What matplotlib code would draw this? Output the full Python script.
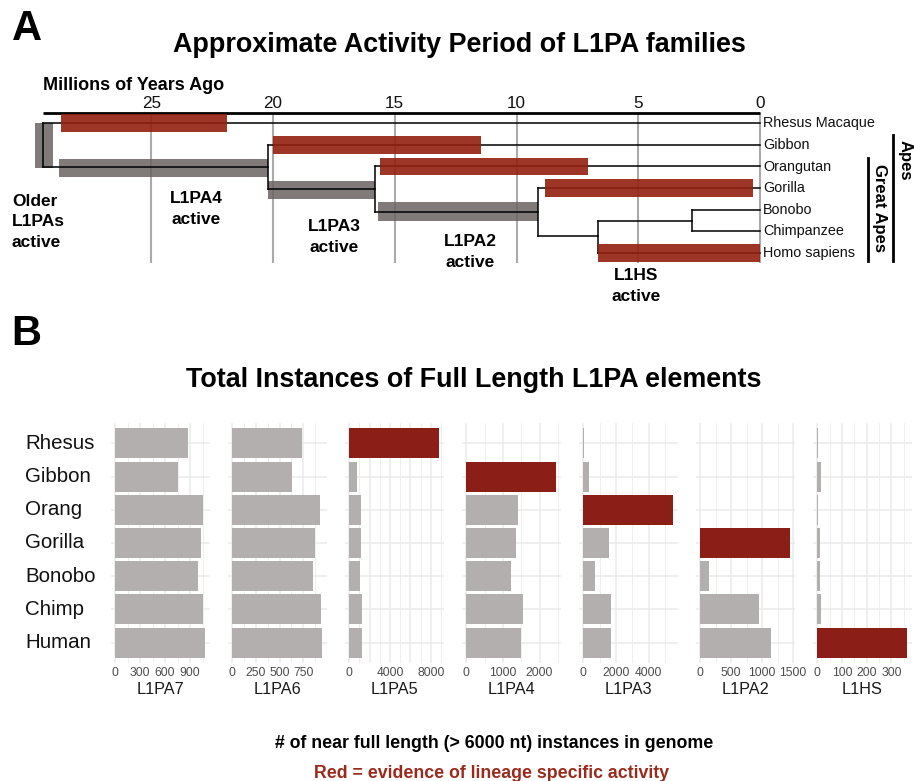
import matplotlib
matplotlib.use('Agg')
import matplotlib.pyplot as plt
from matplotlib.patches import Rectangle
import numpy as np

plt.rcParams['font.family'] = ['Liberation Sans', 'DejaVu Sans']

W, H = 914, 781
fig = plt.figure(figsize=(W / 100, H / 100), dpi=100)

# ---------------- Panel A data ----------------
species_tree = ["Rhesus Macaque", "Gibbon", "Orangutan", "Gorilla",
                "Bonobo", "Chimpanzee", "Homo sapiens"]
myr_ticks = [25, 20, 15, 10, 5, 0]
# internal nodes (age in Mya, row of incoming branch, children)
node_names = ["root", "apes", "great_apes", "hominines", "homo_pan", "pan"]
node_ages = [29.45, 20.2, 15.8, 9.1, 6.65, 2.8]
node_rows = [2.02, 2.02, 3.04, 4.1, 5.2, 4.52]
node_children = [("Rhesus Macaque", "apes"), ("Gibbon", "great_apes"),
                 ("Orangutan", "hominines"), ("Gorilla", "homo_pan"),
                 ("pan", "Homo sapiens"), ("Bonobo", "Chimpanzee")]

# lineage-specific activity (red)
red_species = ["Rhesus Macaque", "Gibbon", "Orangutan", "Gorilla", "Homo sapiens"]
red_start = [28.7, 20.0, 15.6, 8.83, 6.67]
red_end = [21.9, 11.45, 7.05, 0.27, 0.0]

# shared activity on internal branches (grey)
grey_start = [28.8, 20.2, 15.7]
grey_end = [20.2, 15.8, 9.1]
grey_rows = [2.06, 3.08, 4.08]
root_grey_start, root_grey_end = 29.77, 29.03
root_grey_rows = (-0.03, 2.06)

activity_labels = ["Older\nL1PAs\nactive", "L1PA4\nactive", "L1PA3\nactive",
                   "L1PA2\nactive", "L1HS\nactive"]

# ---------------- Panel B data ----------------
genomes = ["Rhesus", "Gibbon", "Orang", "Gorilla", "Bonobo", "Chimp", "Human"]
families = ["L1PA7", "L1PA6", "L1PA5", "L1PA4", "L1PA3", "L1PA2", "L1HS"]
counts_L1PA7 = [872, 752, 1052, 1028, 992, 1052, 1080]
counts_L1PA6 = [736, 630, 926, 873, 852, 937, 947]
counts_L1PA5 = [8815, 790, 1180, 1180, 1080, 1270, 1270]
counts_L1PA4 = [0, 2452, 1417, 1362, 1226, 1553, 1499]
counts_L1PA3 = [20, 384, 5506, 1604, 750, 1726, 1726]
counts_L1PA2 = [2, 2, 2, 1452, 145, 952, 1145]
counts_L1HS = [1, 15, 1, 12, 12, 15, 364]
family_counts = [counts_L1PA7, counts_L1PA6, counts_L1PA5, counts_L1PA4,
                 counts_L1PA3, counts_L1PA2, counts_L1HS]
specific_genome = [None, None, "Rhesus", "Gibbon", "Orang", "Gorilla", "Human"]
major_ticks = [[0, 300, 600, 900], [0, 250, 500, 750], [0, 4000, 8000],
               [0, 1000, 2000], [0, 2000, 4000], [0, 500, 1000, 1500],
               [0, 100, 200, 300]]
grid_step = [150, 125, 1000, 500, 1000, 250, 50]

RED_A = '#94200f'
GREY_A = '#6a6462'
RED_B = '#8b1e17'
GREY_B = '#b3afae'

# ================= Panel A =================
axA = fig.add_axes([0, 1 - 310 / H, 1, 250 / H])
def px2x(px):
    return (760 - px) / 24.35
def py2y(py):
    return (py - 123.3) / 21.6
axA.set_xlim(px2x(0), px2x(W))
axA.set_ylim(py2y(310), py2y(60))
axA.axis('off')

row_of = {s: i for i, s in enumerate(species_tree)}
age_of = {s: 0.0 for s in species_tree}
for n, a, r in zip(node_names, node_ages, node_rows):
    row_of[n] = r
    age_of[n] = a

# grid lines
for t in myr_ticks:
    axA.plot([t, t], [py2y(113), py2y(263)], color='#aaaaaa', lw=1.5,
             zorder=1, solid_capstyle='butt')
    axA.text(t, py2y(104), str(t), ha='center', va='center', fontsize=12.3,
             color='#111111')
# axis line
axA.plot([node_ages[0], 0], [py2y(113), py2y(113)], color='black', lw=2.0,
         zorder=3, solid_capstyle='butt')
axA.text(px2x(43), py2y(85), "Millions of Years Ago", ha='left', va='center',
         fontsize=13, fontweight='bold')

# tree
for n, a, kids in zip(node_names, node_ages, node_children):
    rows = [row_of[k] for k in kids]
    axA.plot([a, a], [min(rows), max(rows)], color='black', lw=1.1, zorder=4)
    for k in kids:
        axA.plot([a, age_of[k]], [row_of[k], row_of[k]], color='black',
                 lw=1.1, zorder=4)

# grey shared activity bars
hg = 0.86
axA.add_patch(Rectangle((root_grey_end, root_grey_rows[0]),
                        root_grey_start - root_grey_end,
                        root_grey_rows[1] - root_grey_rows[0],
                        facecolor=GREY_A, alpha=0.85, lw=0, zorder=2))
for s, e, r in zip(grey_start, grey_end, grey_rows):
    axA.add_patch(Rectangle((e, r - hg / 2), s - e, hg, facecolor=GREY_A,
                            alpha=0.85, lw=0, zorder=2))
# red lineage-specific bars
hr = 0.815
for sp, s, e in zip(red_species, red_start, red_end):
    r = species_tree.index(sp)
    axA.add_patch(Rectangle((e, r - hr / 2), s - e, hr, facecolor=RED_A,
                            alpha=0.9, lw=0, zorder=5))

for sp in species_tree:
    axA.text(px2x(763), species_tree.index(sp), sp, ha='left', va='center',
             fontsize=10.4, color='#111111')

lab_pos = [(12, 222, 'left'), (196, 209, 'center'), (334, 237, 'center'),
           (470, 252, 'center'), (636, 286, 'center')]
for txt, (x, y, ha) in zip(activity_labels, lab_pos):
    axA.text(px2x(x), py2y(y), txt, ha=ha, va='center', fontsize=12.5,
             fontweight='bold', linespacing=1.45)

# clade bars
axA.plot([px2x(892.5)] * 2, [py2y(135), py2y(261)], color='black', lw=2.0)
axA.text(px2x(905), py2y(160), "Apes", rotation=-90, ha='center', va='center',
         fontsize=12, fontweight='bold')
axA.plot([px2x(868)] * 2, [py2y(158), py2y(261)], color='black', lw=2.0)
axA.text(px2x(879), py2y(208), "Great Apes", rotation=-90, ha='center',
         va='center', fontsize=12, fontweight='bold')

fig.text(27 / W, 1 - 29 / H, "A", ha='center', va='center', fontsize=30,
         fontweight='bold')
fig.text(459 / W, 1 - 45 / H, "Approximate Activity Period of L1PA families",
         ha='center', va='center', fontsize=19.4, fontweight='bold')

# ================= Panel B =================
fig.text(26 / W, 1 - 334 / H, "B", ha='center', va='center', fontsize=30,
         fontweight='bold')
fig.text(474 / W, 1 - 380 / H, "Total Instances of Full Length L1PA elements",
         ha='center', va='center', fontsize=19.4, fontweight='bold')

p_top, p_bot = 423.4, 662.6
p_w = 99
lefts = [110.5 + 117.05 * i for i in range(7)]
ypos = np.arange(len(genomes))
for i, (fam, vals) in enumerate(zip(families, family_counts)):
    ax = fig.add_axes([lefts[i] / W, 1 - p_bot / H, p_w / W, (p_bot - p_top) / H])
    vmax = max(vals)
    ax.set_xlim(-0.05 * vmax, 1.05 * vmax)
    ax.set_ylim(len(genomes) - 0.4, -0.6)
    for sp in ax.spines.values():
        sp.set_visible(False)
    # grid
    g = 0.0
    while g <= 1.05 * vmax:
        is_major = any(abs(g - m) < 1e-9 for m in major_ticks[i]) or \
            (g % (2 * grid_step[i]) == 0)
        ax.axvline(g, color='#ebebeb', lw=1.1 if is_major else 0.6, zorder=0)
        g += grid_step[i]
    for y in ypos:
        ax.axhline(y, color='#ebebeb', lw=1.1, zorder=0)
    colors = [RED_B if genomes[j] == specific_genome[i] else GREY_B
              for j in range(len(genomes))]
    ax.barh(ypos, vals, height=0.9, color=colors, zorder=2)
    ax.set_xticks(major_ticks[i])
    ax.set_xticklabels([str(t) for t in major_ticks[i]])
    ax.set_yticks([])
    ax.tick_params(axis='x', length=0, pad=3.5, labelsize=8.7, labelcolor='#4d4d4d')
    fig.text((lefts[i] + p_w / 2) / W, 1 - 689 / H, fam, ha='center',
             va='center', fontsize=11.7, color='#1a1a1a')

row_h = (p_bot - p_top) / 7.2
for j, gname in enumerate(genomes):
    yc = p_top + row_h * (0.6 + j)
    fig.text(25 / W, 1 - yc / H, gname, ha='left', va='center', fontsize=14.8,
             color='#111111')

fig.text(494 / W, 1 - 743 / H,
         "# of near full length (> 6000 nt) instances in genome",
         ha='center', va='center', fontsize=12.8, fontweight='bold')
fig.text(492 / W, 1 - 773 / H, "Red = evidence of lineage specific activity",
         ha='center', va='center', fontsize=12.8, fontweight='bold',
         color='#9b2a1c')

fig.savefig('out.png', dpi=100)
